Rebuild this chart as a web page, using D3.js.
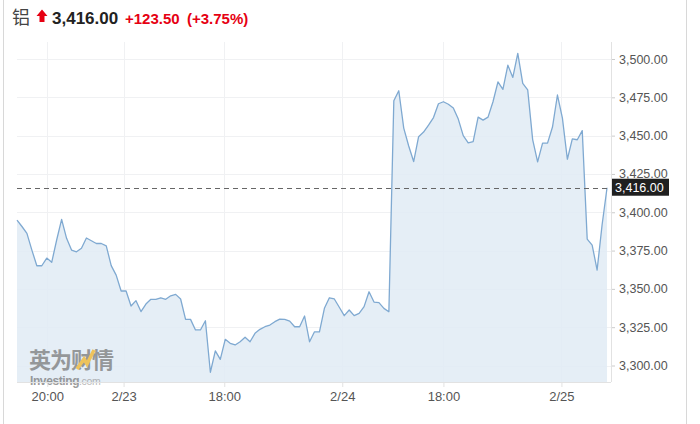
<!DOCTYPE html>
<html>
<head lang="en">
    <meta charset="utf-8">
    <script src="https://d3js.org/d3.v7.min.js"></script>
    <style>
        body { margin: 0; background: #fff; }
    </style>
</head>
<body>
    <div id="chart" style="width:700px; height:424px;"></div>

    <script>
        // price series (one point per bar of the intraday feed)
        const prices = [
            3394.9, 3390.7, 3386.2, 3375.3, 3365.1, 3365.1, 3370.1, 3367.3, 3381.9, 3395.4,
            3383.0, 3375.3, 3374.2, 3376.5, 3383.2, 3381.4, 3379.6, 3379.6, 3378.1, 3365.2,
            3359.0, 3348.6, 3348.6, 3338.8, 3342.3, 3335.2, 3340.1, 3343.2, 3343.2, 3344.2,
            3343.2, 3345.5, 3346.4, 3343.4, 3330.1, 3330.1, 3323.2, 3323.2, 3329.2, 3295.6,
            3309.5, 3304.0, 3317.1, 3314.5, 3313.4, 3315.5, 3318.4, 3315.5, 3321.0, 3323.6,
            3325.3, 3326.4, 3328.6, 3330.3, 3330.1, 3329.0, 3325.3, 3325.3, 3332.3, 3315.5,
            3322.0, 3322.0, 3337.3, 3344.2, 3343.4, 3338.0, 3332.5, 3336.2, 3332.5, 3334.0,
            3338.4, 3348.1, 3341.4, 3341.0, 3337.3, 3335.1, 3472.7, 3479.3, 3454.9, 3443.2,
            3433.1, 3449.3, 3452.3, 3456.9, 3461.8, 3470.8, 3472.1, 3470.5, 3468.0, 3460.8,
            3450.0, 3445.3, 3446.1, 3462.1, 3460.1, 3462.1, 3472.1, 3485.1, 3480.2, 3496.0,
            3488.0, 3503.7, 3484.1, 3479.9, 3447.4, 3432.9, 3445.1, 3445.1, 3455.6, 3476.5,
            3461.4, 3434.6, 3447.9, 3447.3, 3453.3, 3382.5, 3378.6, 3362.3, 3391.7, 3416.0
        ];

        const yTicks = [3300, 3325, 3350, 3375, 3400, 3425, 3450, 3475, 3500];
        const xTickLabels = ['20:00', '2/23', '18:00', '2/24', '18:00', '2/25'];
        // where each label falls, measured in bars from the first point
        const xTickIdx = [6.1, 21.5, 41.8, 65.6, 86.0, 109.8];

        const name = '铝';
        const lastPrice = 3416.00;
        const change = 123.50;
        const changePct = 3.75;

        const width = 700;
        const height = 424;
        const plot = ({top: 42, right: 611, bottom: 382, left: 17});

        const svg = d3.create('svg')
            .attr('width', width)
            .attr('height', height)
            .style('font-family', 'Arial, "Liberation Sans", sans-serif');

        // card edges
        svg.append('line')
            .attr('x1', 3.5).attr('x2', 3.5).attr('y1', 0).attr('y2', height)
            .attr('stroke', '#d8d8d8');
        svg.append('line')
            .attr('x1', 686.5).attr('x2', 686.5).attr('y1', 0).attr('y2', height)
            .attr('stroke', '#d8d8d8');

        // scales
        const xScale = d3.scaleLinear()
            .domain([0, prices.length - 1 + 0.8])
            .range([plot.left, plot.right]);

        const yScale = d3.scaleLinear()
            .domain([3300, 3500])
            .range([365.5, 59]);

        // grid
        svg.append('g')
            .selectAll('line')
            .data(yTicks)
            .join('line')
            .attr('x1', plot.left).attr('x2', plot.right)
            .attr('y1', d => Math.round(yScale(d)) + 0.5)
            .attr('y2', d => Math.round(yScale(d)) + 0.5)
            .attr('stroke', '#f0f1f3');

        svg.append('g')
            .selectAll('line')
            .data(xTickIdx)
            .join('line')
            .attr('x1', d => Math.round(xScale(d)) + 0.5)
            .attr('x2', d => Math.round(xScale(d)) + 0.5)
            .attr('y1', plot.top).attr('y2', plot.bottom)
            .attr('stroke', '#f0f1f3');

        // area + line
        const area = d3.area()
            .x((d, i) => xScale(i))
            .y0(plot.bottom)
            .y1(d => yScale(d));

        const line = d3.line()
            .x((d, i) => xScale(i))
            .y(d => yScale(d));

        svg.append('path')
            .datum(prices)
            .attr('d', area)
            .attr('fill', '#e1ebf5')
            .attr('fill-opacity', 0.85);

        svg.append('path')
            .datum(prices)
            .attr('d', line)
            .attr('fill', 'none')
            .attr('stroke', '#7fa9d1')
            .attr('stroke-width', 1.3)
            .attr('stroke-linejoin', 'round');

        // watermark
        const wm = svg.append('g').attr('opacity', 0.7);
        wm.append('text')
            .attr('x', 29).attr('y', 368)
            .attr('font-size', '22px')
            .attr('font-weight', 'bold')
            .attr('font-family', '"Noto Sans CJK SC", sans-serif')
            .attr('fill', '#737373')
            .attr('letter-spacing', '-1px')
            .text('英为财情');
        wm.append('path')
            .attr('d', 'M77,369 L84,359 L87,364 L94,350')
            .attr('fill', 'none')
            .attr('stroke', '#f2b21b')
            .attr('stroke-width', 3.5);
        wm.append('text')
            .attr('x', 30).attr('y', 385)
            .attr('font-size', '12px')
            .attr('font-weight', 'bold')
            .attr('fill', '#737373')
            .attr('letter-spacing', '-0.4px')
            .text('Investing')
            .append('tspan')
            .attr('font-weight', 'normal')
            .attr('font-size', '10.5px')
            .attr('fill', '#999')
            .text('.com');

        // current price line
        svg.append('line')
            .attr('x1', plot.left).attr('x2', plot.right)
            .attr('y1', Math.round(yScale(lastPrice)) + 0.5)
            .attr('y2', Math.round(yScale(lastPrice)) + 0.5)
            .attr('stroke', '#666')
            .attr('stroke-dasharray', '5,4');

        // y axis on the right
        const yAxis = svg.append('g')
            .attr('transform', `translate(${plot.right}, 0)`)
            .call(d3.axisRight(yScale)
                .tickValues(yTicks)
                .tickFormat(d3.format(',.2f'))
                .tickSize(4)
                .tickPadding(4));
        yAxis.select('.domain').remove();
        yAxis.selectAll('.tick line').attr('stroke', '#ccc');
        yAxis.selectAll('.tick text')
            .attr('fill', '#555')
            .attr('font-size', '12.5px')
            .attr('font-family', 'Arial, "Liberation Sans", sans-serif');

        svg.append('line')
            .attr('x1', plot.right + 0.5).attr('x2', plot.right + 0.5)
            .attr('y1', plot.top).attr('y2', plot.bottom)
            .attr('stroke', '#e2e2e2');

        // x axis
        const xAxis = svg.append('g')
            .attr('transform', `translate(0, ${plot.bottom})`)
            .call(d3.axisBottom(xScale)
                .tickValues(xTickIdx)
                .tickFormat((d, i) => xTickLabels[i])
                .tickSize(5)
                .tickPadding(5));
        xAxis.select('.domain')
            .attr('stroke', '#e2e2e2')
            .attr('d', `M${plot.left},0.5H${plot.right}`);
        xAxis.selectAll('.tick line').attr('stroke', '#e2e2e2');
        xAxis.selectAll('.tick text')
            .attr('fill', '#555')
            .attr('font-size', '13px')
            .attr('font-family', 'Arial, "Liberation Sans", sans-serif');

        // price tag
        const tagY = yScale(lastPrice);
        svg.append('rect')
            .attr('x', 612).attr('y', tagY - 9)
            .attr('width', 57).attr('height', 17)
            .attr('fill', '#1f1f1f');
        svg.append('text')
            .attr('x', 615).attr('y', tagY + 4.5)
            .attr('fill', '#fff')
            .attr('font-size', '12.5px')
            .text(d3.format(',.2f')(lastPrice));

        // header
        const head = svg.append('text')
            .attr('y', 24)
            .attr('font-size', '17px');
        head.append('tspan')
            .attr('x', 12)
            .attr('fill', '#444')
            .attr('font-size', '18px')
            .attr('font-family', '"Noto Sans CJK SC", sans-serif')
            .text(name);
        svg.append('path')
            .attr('d', 'M42,9.5 L47.5,16 L44.5,16 L44.5,22 L39.5,22 L39.5,16 L36.5,16 Z')
            .attr('fill', '#e60012');
        head.append('tspan')
            .attr('x', 52)
            .attr('font-weight', 'bold')
            .attr('fill', '#222')
            .text(d3.format(',.2f')(lastPrice));
        head.append('tspan')
            .attr('x', 125)
            .attr('font-size', '15px')
            .attr('font-weight', 'bold')
            .attr('fill', '#e60012')
            .text('+' + d3.format(',.2f')(change));
        head.append('tspan')
            .attr('x', 187)
            .attr('font-size', '15px')
            .attr('font-weight', 'bold')
            .attr('fill', '#e60012')
            .text('(+' + changePct.toFixed(2) + '%)');

        document.getElementById('chart').appendChild(svg.node());
    </script>
</body>
</html>
